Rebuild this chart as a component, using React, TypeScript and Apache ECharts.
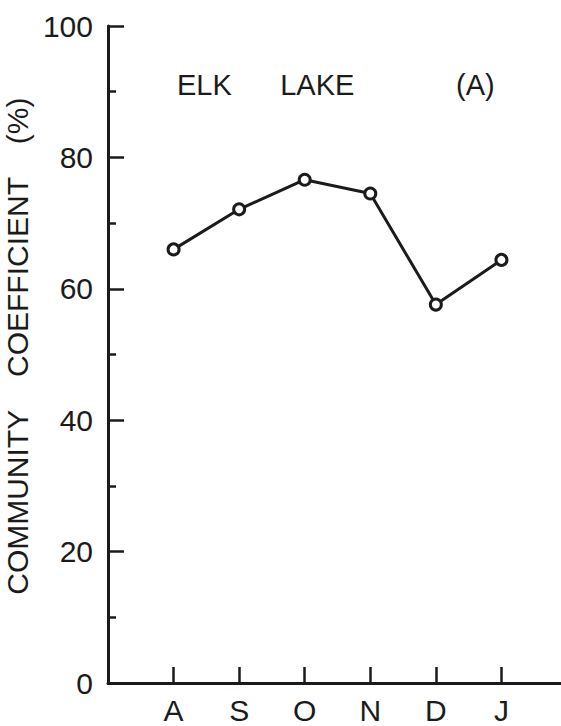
import React, { useEffect, useRef } from "react";
import * as echarts from "echarts";

const months = ["A", "S", "O", "N", "D", "J"];
const coefficient = [66.0, 72.1, 76.6, 74.5, 57.6, 64.4];
const titleMain = "ELK      LAKE";
const titlePanel = "(A)";
const yName = "  COMMUNITY    COEFFICIENT    (%)";

const INK = "#1b1b1b";
const FONT = "'Liberation Sans', Arial, Helvetica, sans-serif";

export default function App() {
  const ref = useRef<HTMLDivElement>(null);
  useEffect(() => {
    if (!ref.current) return;
    const chart = echarts.init(ref.current, null, { renderer: "svg" });
    const data = months.map((m, i) => [i + 1, coefficient[i]]);
    chart.setOption({
      animation: false,
      backgroundColor: "#ffffff",
      title: [
        {
          text: titleMain,
          left: 172,
          top: 65,
          textStyle: { fontFamily: FONT, fontSize: 29, fontWeight: "normal", color: INK },
        },
        {
          text: titlePanel,
          left: 451,
          top: 65,
          textStyle: { fontFamily: FONT, fontSize: 29, fontWeight: "normal", color: INK },
        },
      ],
      grid: {
        left: 108,
        right: -6,
        top: 26,
        bottom: 43,
        containLabel: false,
        outerBoundsMode: "none",
      },
      xAxis: {
        type: "value",
        min: 0,
        max: 7,
        interval: 1,
        splitLine: { show: false },
        axisLine: { show: true, lineStyle: { color: INK, width: 3 } },
        axisTick: { show: true, inside: true, length: 16, lineStyle: { color: INK, width: 2.5 } },
        axisLabel: {
          margin: 12,
          fontFamily: FONT,
          fontSize: 30,
          color: INK,
          formatter: (v: number) => months[v - 1] ?? "",
        },
      },
      yAxis: {
        type: "value",
        min: 0,
        max: 100,
        interval: 20,
        name: yName,
        nameLocation: "middle",
        nameRotate: 90,
        nameGap: 61,
        nameTextStyle: { fontFamily: FONT, fontSize: 30, color: INK },
        splitLine: { show: false },
        axisLine: { show: true, lineStyle: { color: INK, width: 3 } },
        axisTick: { show: true, inside: true, length: 16, lineStyle: { color: INK, width: 2.5 } },
        minorTick: { show: true, splitNumber: 2, length: 8, lineStyle: { color: INK, width: 2.5 } },
        axisLabel: { margin: 15, fontFamily: FONT, fontSize: 30, color: INK },
      },
      series: [
        {
          type: "line",
          data,
          symbol: "circle",
          symbolSize: 11,
          itemStyle: { color: "#ffffff", borderColor: INK, borderWidth: 3 },
          lineStyle: { color: INK, width: 3 },
        },
      ],
    });
    return () => chart.dispose();
  }, []);
  return (
    <div
      ref={ref}
      style={{ position: "absolute", left: 0, top: 0, width: 561, height: 726, background: "#fff" }}
    />
  );
}
